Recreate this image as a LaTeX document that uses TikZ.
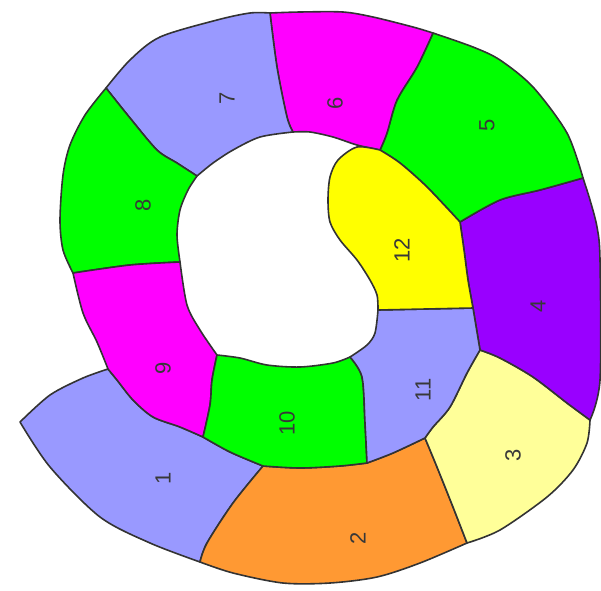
\documentclass[tikz,border=0pt]{standalone}
\usepackage{fontspec}
\setmainfont{Liberation Sans}
\usepackage{tikz}
\definecolor{lavend}{HTML}{9999FF}
\definecolor{magent}{HTML}{FF00FF}
\definecolor{brightgreen}{HTML}{00FF00}
\definecolor{violet}{HTML}{9900FF}
\definecolor{lemon}{HTML}{FFFF00}
\definecolor{paleyellow}{HTML}{FFFF99}
\definecolor{tangerine}{HTML}{FF9933}

\begin{document}
\begin{tikzpicture}[x=1pt,y=-1pt,
 part/.style={draw=black!80,line width=1.6pt,line join=round},
 num/.style={font=\fontsize{22}{22}\selectfont,text=black!78,rotate=90,inner sep=0pt}]
\useasboundingbox (0,0) rectangle (601,590);

% Outer turn of the spiral: segments 1 to 9
\filldraw[part,fill=lavend]
 plot[smooth] coordinates {(20,422) (50,467) (100,517) (150,543) (200,562)}
 -- plot[smooth] coordinates {(200,562) (207,543) (233,503) (263,466)}
 -- plot[smooth] coordinates {(263,466) (230,452) (203,437)}
 -- plot[smooth] coordinates {(203,437) (180,427) (153,417) (133,400) (117,380) (108,369)}
 -- plot[smooth] coordinates {(108,369) (83,378) (50,395) (20,422)} -- cycle;
\filldraw[part,fill=tangerine]
 plot[smooth] coordinates {(263,466) (300,468) (340,466) (367,463)}
 -- plot[smooth] coordinates {(367,463) (393,453) (425,438)}
 -- plot[smooth] coordinates {(425,438) (437,467) (453,507) (467,543)}
 -- plot[smooth] coordinates {(467,543) (420,563) (377,577) (330,583) (283,583) (233,573) (200,562)}
 -- plot[smooth] coordinates {(200,562) (207,543) (233,503) (263,466)} -- cycle;
\filldraw[part,fill=paleyellow]
 plot[smooth] coordinates {(425,438) (433,427) (450,407) (467,373) (480,350)}
 -- plot[smooth] coordinates {(480,350) (500,358) (533,377) (567,403) (590,420)}
 -- plot[smooth] coordinates {(590,420) (587,443) (573,470) (547,497) (500,530) (467,543)}
 -- plot[smooth] coordinates {(467,543) (453,507) (437,467) (425,438)} -- cycle;
\filldraw[part,fill=violet]
 plot[smooth] coordinates {(460,222) (500,200) (540,190) (583,178)}
 -- plot[smooth] coordinates {(583,178) (590,200) (597,227) (600,260) (600,380) (590,420)}
 -- plot[smooth] coordinates {(590,420) (567,403) (533,377) (500,358) (480,350)}
 -- (473,308)
 -- plot[smooth] coordinates {(473,308) (468,280) (464,250) (460,222)} -- cycle;
\filldraw[part,fill=brightgreen]
 plot[smooth] coordinates {(433,33) (473,47) (500,60) (533,87) (567,133) (583,178)}
 -- plot[smooth] coordinates {(583,178) (540,190) (500,200) (460,222)}
 -- plot[smooth] coordinates {(460,222) (427,187) (400,163) (380,150)}
 -- plot[smooth] coordinates {(380,150) (387,133) (397,100) (417,67) (433,33)} -- cycle;
\filldraw[part,fill=magent]
 plot[smooth] coordinates {(270,13) (300,12) (343,12) (373,17) (413,27) (433,33)}
 -- plot[smooth] coordinates {(433,33) (417,67) (397,100) (387,133) (380,150)}
 -- plot[smooth] coordinates {(380,150) (357,145) (333,137) (310,132) (293,132)}
 -- plot[smooth] coordinates {(293,132) (287,117) (277,67) (270,13)} -- cycle;
\filldraw[part,fill=lavend]
 plot[smooth] coordinates {(106,88) (130,60) (160,37) (217,20) (250,13) (270,13)}
 -- plot[smooth] coordinates {(270,13) (277,67) (287,117) (293,132)}
 -- plot[smooth] coordinates {(293,132) (260,137) (233,150) (213,163) (197,176)}
 -- plot[smooth] coordinates {(197,176) (177,163) (157,150) (130,118) (106,88)} -- cycle;
\filldraw[part,fill=brightgreen]
 plot[smooth] coordinates {(106,88) (130,118) (157,150) (177,163) (197,176)}
 -- plot[smooth] coordinates {(197,176) (188,190) (180,210) (177,235) (180,262)}
 -- plot[smooth] coordinates {(180,262) (130,265) (73,273)}
 -- plot[smooth] coordinates {(73,273) (63,250) (60,220) (63,175) (70,145) (85,115) (106,88)} -- cycle;
\filldraw[part,fill=magent]
 plot[smooth] coordinates {(73,273) (130,265) (180,262)}
 -- plot[smooth] coordinates {(180,262) (187,305) (200,330) (217,355)}
 -- plot[smooth] coordinates {(217,355) (212,380) (210,405) (203,437)}
 -- plot[smooth] coordinates {(203,437) (180,427) (153,417) (133,400) (117,380) (108,369)}
 -- plot[smooth] coordinates {(108,369) (97,342) (83,313) (73,273)} -- cycle;

% Inner turn: segments 10 to 12
\filldraw[part,fill=brightgreen]
 plot[smooth] coordinates {(217,355) (240,358) (267,365) (300,367) (333,363) (350,357)}
 -- plot[smooth] coordinates {(350,357) (362,377) (365,423) (367,463)}
 -- plot[smooth] coordinates {(367,463) (340,466) (300,468) (263,466)}
 -- plot[smooth] coordinates {(263,466) (230,452) (203,437)}
 -- plot[smooth] coordinates {(203,437) (210,405) (212,380) (217,355)} -- cycle;
\filldraw[part,fill=lavend]
 (378,310) -- (473,308) -- (480,350)
 -- plot[smooth] coordinates {(480,350) (467,373) (450,407) (433,427) (425,438)}
 -- plot[smooth] coordinates {(425,438) (393,453) (367,463)}
 -- plot[smooth] coordinates {(367,463) (365,423) (362,377) (350,357)}
 -- plot[smooth] coordinates {(350,357) (367,345) (375,333) (378,310)} -- cycle;
\filldraw[part,fill=lemon]
 plot[smooth] coordinates {(380,150) (400,163) (427,187) (460,222)}
 -- plot[smooth] coordinates {(460,222) (464,250) (468,280) (473,308)}
 -- (378,310)
 -- plot[smooth] coordinates {(378,310) (377,295) (370,280) (357,260) (340,240) (330,222) (328,200) (330,177) (338,160) (357,147) (380,150)} -- cycle;

% Segment numbers
\node[num] (n1) at (163,478) {1};
\node[num] (n2) at (358,538) {2};
\node[num] (n3) at (513,455) {3};
\node[num] (n4) at (538,306) {4};
\node[num] (n5) at (487,125) {5};
\node[num] (n6) at (335,103) {6};
\node[num] (n7) at (227,98) {7};
\node[num] (n8) at (143,205) {8};
\node[num] (n9) at (163,368) {9};
\node[num] (n10) at (287,423) {10};
\node[num] (n11) at (423,390) {11};
\node[num] (n12) at (402,250) {12};
\end{tikzpicture}
\end{document}
